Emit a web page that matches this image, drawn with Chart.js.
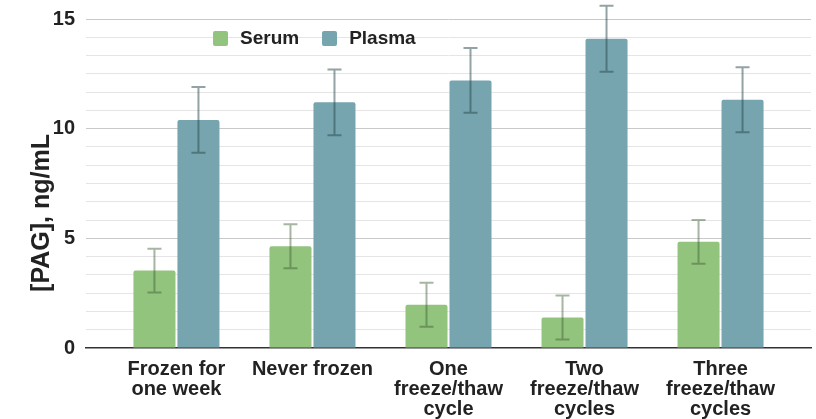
<!DOCTYPE html>
<html lang="en">
<head>
  <meta charset="UTF-8" />
  <title>PAG serum vs plasma</title>
  <script src="https://cdn.jsdelivr.net/npm/chart.js"></script>
  <style>
    body {
      margin: 0;
      background: #fff;
      font-family: "Liberation Sans", Arial, sans-serif;
    }
    #wrap {
      position: relative;
      width: 816px;
      height: 419px;
    }
    #legend {
      position: absolute;
      left: 213px;
      top: 27px;
      display: flex;
      align-items: center;
      font-weight: bold;
      font-size: 19px;
      color: #222;
    }
    .sw {
      width: 15px;
      height: 15px;
      border-radius: 2px;
      margin-right: 12px;
    }
    .item {
      display: flex;
      align-items: center;
      margin-right: 23px;
    }
  </style>
</head>
<body>

  <div id="wrap">
    <canvas id="chart" width="816" height="419"></canvas>
    <div id="legend"></div>
  </div>

  <script>
    const categories = [
      ["Frozen for", "one week"],
      ["Never frozen"],
      ["One", "freeze/thaw", "cycle"],
      ["Two", "freeze/thaw", "cycles"],
      ["Three", "freeze/thaw", "cycles"]
    ];
    const serum = [3.53, 4.64, 1.97, 1.39, 4.84];
    const serumErr = [1.0, 1.0, 1.0, 1.0, 1.0];
    const plasma = [10.4, 11.2, 12.2, 14.1, 11.32];
    const plasmaErr = [1.5, 1.5, 1.48, 1.5, 1.48];
    const yTickLabels = [0, 5, 10, 15];

    const serumColor = "#93c47d";
    const plasmaColor = "#76a5af";
    const textColor = "#222";
    const fontFamily = "'Liberation Sans', Arial, sans-serif";

    // legend as html, it sits inside the plot area in the original
    const legendEl = document.getElementById("legend");
    [["Serum", serumColor], ["Plasma", plasmaColor]].forEach(([name, col]) => {
      const it = document.createElement("div");
      it.className = "item";
      it.innerHTML = `<div class="sw" style="background:${col}"></div><span>${name}</span>`;
      legendEl.appendChild(it);
    });

    const errorBars = {
      id: "errorBars",
      afterDatasetsDraw(chart) {
        const ctx = chart.ctx;
        const y = chart.scales.y;
        chart.data.datasets.forEach((ds, i) => {
          const meta = chart.getDatasetMeta(i);
          ctx.save();
          ctx.strokeStyle = ds.errColor;
          ctx.lineWidth = 2;
          meta.data.forEach((bar, j) => {
            const v = ds.data[j].y;
            const e = ds.errors[j];
            const top = y.getPixelForValue(v + e);
            const bot = y.getPixelForValue(v - e);
            ctx.beginPath();
            ctx.moveTo(bar.x, top);
            ctx.lineTo(bar.x, bot);
            ctx.moveTo(bar.x - 7, top);
            ctx.lineTo(bar.x + 7, top);
            ctx.moveTo(bar.x - 7, bot);
            ctx.lineTo(bar.x + 7, bot);
            ctx.stroke();
          });
          ctx.restore();
        });
      }
    };

    const yTitle = {
      id: "yTitle",
      afterDraw(chart) {
        const ctx = chart.ctx;
        ctx.save();
        ctx.translate(42, 213);
        ctx.rotate(-Math.PI / 2);
        ctx.font = "bold 25px " + fontFamily;
        ctx.fillStyle = textColor;
        ctx.textAlign = "center";
        ctx.textBaseline = "middle";
        ctx.fillText("[PAG], ng/mL", 0, 0);
        ctx.restore();
      }
    };

    const isMajor = v => yTickLabels.some(t => Math.abs(t - v) < 1e-6);

    new Chart(document.getElementById("chart"), {
      type: "bar",
      data: {
        datasets: [
          {
            label: "Serum",
            data: serum.map((v, i) => ({ x: i + 1, y: v })),
            errors: serumErr,
            backgroundColor: serumColor,
            errColor: "rgba(60, 90, 50, 0.45)",
            borderRadius: 2,
            borderSkipped: "bottom"
          },
          {
            label: "Plasma",
            data: plasma.map((v, i) => ({ x: i + 1, y: v })),
            errors: plasmaErr,
            backgroundColor: plasmaColor,
            errColor: "rgba(40, 70, 75, 0.5)",
            borderRadius: 2,
            borderSkipped: "bottom"
          }
        ]
      },
      options: {
        responsive: false,
        devicePixelRatio: 1,
        animation: false,
        categoryPercentage: 0.647,
        barPercentage: 0.955,
        layout: { padding: { top: 19, right: 5, left: 0, bottom: 0 } },
        plugins: {
          legend: { display: false },
          tooltip: { enabled: false }
        },
        scales: {
          x: {
            type: "linear",
            offset: false,
            min: 0.335,
            max: 5.665,
            afterBuildTicks: s => { s.ticks = categories.map((_, i) => ({ value: i + 1 })); },
            afterFit: s => { s.height = 71; },
            grid: { display: false, drawTicks: false, offset: false },
            border: { display: true, color: "#333", width: 1.5 },
            ticks: {
              padding: 11,
              color: textColor,
              font: { family: fontFamily, size: 20, weight: "bold", lineHeight: 1.0 },
              maxRotation: 0,
              autoSkip: false,
              callback: v => categories[Math.round(v) - 1]
            }
          },
          y: {
            min: 0,
            max: 15,
            afterBuildTicks: s => {
              const t = [];
              for (let k = 0; k <= 18; k++) t.push({ value: k * 5 / 6 });
              s.ticks = t;
            },
            afterFit: s => {
              s.width = 86;
              s.paddingTop = 0;
              s.paddingBottom = 0;
            },
            grid: {
              drawTicks: false,
              color: c => c.tick.value === 0 ? "rgba(0,0,0,0)" : (isMajor(c.tick.value) ? "#c9c9c9" : "#e5e5e5"),
              lineWidth: 1
            },
            border: { display: false },
            ticks: {
              padding: 11,
              autoSkip: false,
              color: textColor,
              font: { family: fontFamily, size: 20, weight: "bold" },
              callback: v => isMajor(v) ? String(Math.round(v)) : ""
            }
          }
        }
      },
      plugins: [errorBars, yTitle]
    });
  </script>

</body>
</html>
